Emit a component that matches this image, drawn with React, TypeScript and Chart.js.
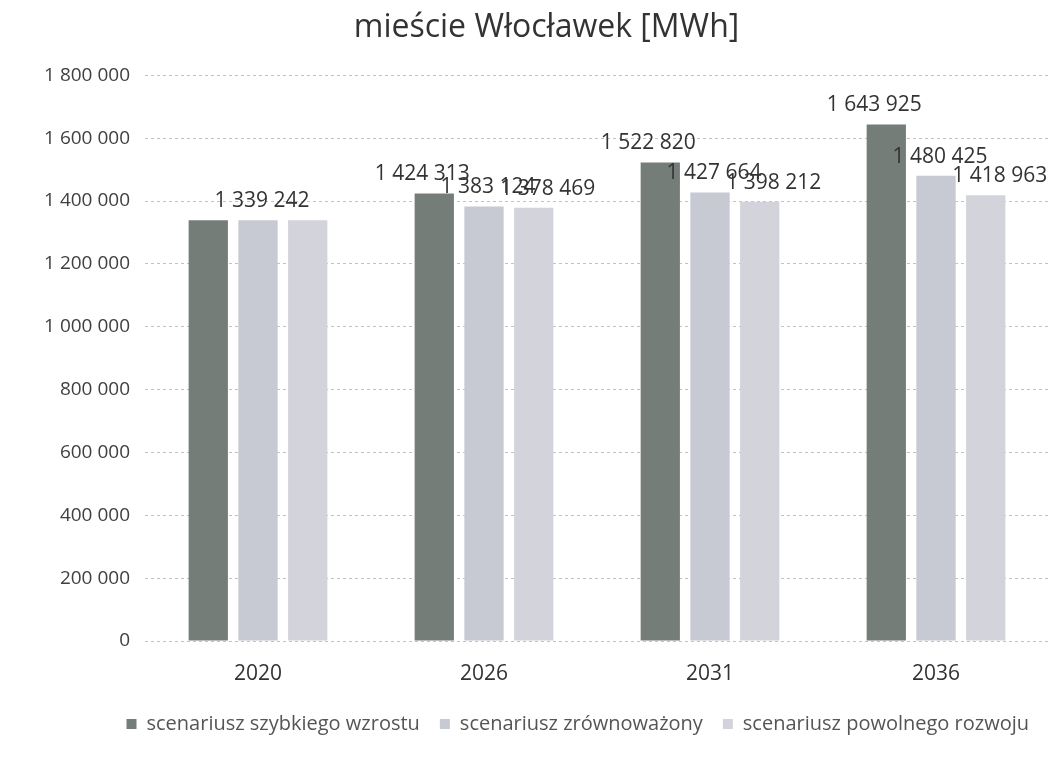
import React, { useEffect, useRef } from "react";
import { Chart, registerables } from "chart.js";

Chart.register(...registerables);

const categories = ["2020", "2026", "2031", "2036"];
const seriesNames = [
  "scenariusz szybkiego wzrostu",
  "scenariusz zrównoważony",
  "scenariusz powolnego rozwoju",
];
const fastGrowth = [1339242, 1424313, 1522820, 1643925];
const balanced = [1339242, 1383124, 1427664, 1480425];
const slowDevelopment = [1339242, 1378469, 1398212, 1418963];
const yMin = 0;
const yMax = 1800000;
const yStep = 200000;

const titleText = "mieście Włocławek [MWh]";
const FONT = "'Open Sans', 'Liberation Sans', sans-serif";

const fmt = (n: number) =>
  Math.round(n).toString().replace(/\B(?=(\d{3})+(?!\d))/g, " ");

const labelShift = [-12, 4, 14];

const dataLabels = {
  id: "dataLabels",
  afterDatasetsDraw(chart: any) {
    const ctx = chart.ctx;
    ctx.save();
    ctx.font = `21px ${FONT}`;
    ctx.fillStyle = "#333333";
    ctx.textAlign = "center";
    ctx.textBaseline = "middle";
    const n = chart.data.labels.length;
    const dsCount = chart.data.datasets.length;
    for (let i = 0; i < n; i++) {
      const vals = chart.data.datasets.map((d: any) => d.data[i]);
      const allEqual = vals.every((v: number) => v === vals[0]);
      for (let d = 0; d < dsCount; d++) {
        if (allEqual && d !== Math.floor(dsCount / 2)) continue;
        const meta = chart.getDatasetMeta(d);
        const el = meta.data[i];
        if (!el) continue;
        const dx = allEqual ? 4 : labelShift[d];
        ctx.fillText(fmt(vals[d]), el.x + dx, el.y - 19);
      }
    }
    ctx.restore();
  },
};

export default function App() {
  const ref = useRef<HTMLCanvasElement | null>(null);

  useEffect(() => {
    if (!ref.current) return;
    const chart = new Chart(ref.current, {
      type: "bar",
      data: {
        labels: categories,
        datasets: [
          { label: seriesNames[0], data: fastGrowth, backgroundColor: "#757d79" },
          { label: seriesNames[1], data: balanced, backgroundColor: "#c7c9d3" },
          { label: seriesNames[2], data: slowDevelopment, backgroundColor: "#d3d3db" },
        ],
      },
      options: {
        animation: false,
        responsive: true,
        maintainAspectRatio: false,
        layout: { padding: { left: 36, right: 0, top: 0, bottom: 9 } },
        datasets: {
          bar: { categoryPercentage: 0.66, barPercentage: 0.79 },
        },
        scales: {
          x: {
            afterFit: (scale: any) => {
              scale.height = 53;
            },
            grid: { display: false },
            border: { display: false },
            ticks: {
              color: "#333333",
              font: { family: FONT, size: 21 },
              padding: 12,
            },
          },
          y: {
            min: yMin,
            max: yMax,
            afterFit: (scale: any) => {
              scale.width = 101;
            },
            border: { display: false, dash: [3, 3] },
            grid: {
              color: "#c2c2c2",
              drawTicks: false,
              lineWidth: 1,
            },
            ticks: {
              stepSize: yStep,
              color: "#404040",
              padding: 15,
              font: { family: FONT, size: 19 },
              callback: (v: any) => fmt(Number(v)),
            },
          },
        },
        plugins: {
          title: {
            display: true,
            text: titleText,
            color: "#333333",
            font: { family: FONT, size: 32, weight: "normal" },
            padding: { top: 1, bottom: 28 },
          },
          legend: {
            position: "bottom",
            align: "end",
            labels: {
              color: "#555555",
              font: { family: FONT, size: 20 },
              boxWidth: 10,
              boxHeight: 10,
              padding: 20,
            },
          },
          tooltip: { enabled: false },
        },
      },
      plugins: [dataLabels],
    });
    return () => chart.destroy();
  }, []);

  return (
    <div style={{ width: 1041, height: 745, position: "relative" }}>
      <canvas ref={ref} />
    </div>
  );
}
